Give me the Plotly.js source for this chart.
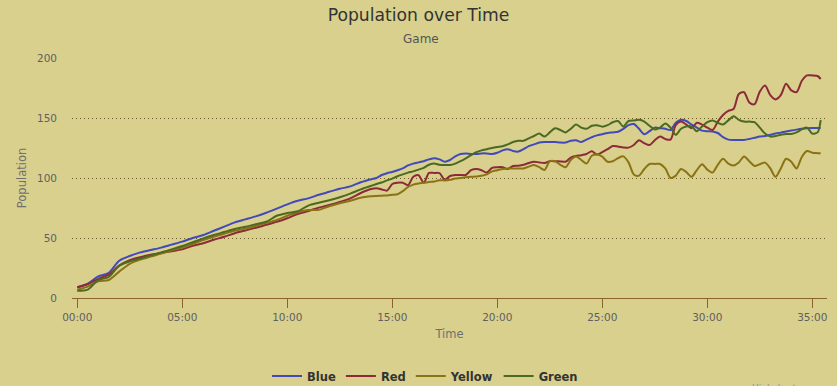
<!DOCTYPE html>
<html>
<head>
<meta charset="utf-8">
<script src="https://cdn.plot.ly/plotly-3.0.1.min.js"></script>
<style>
  html, body { margin: 0; padding: 0; background: #d8d08c; }
  #chart { width: 837px; height: 386px; }
</style>
</head>
<body>
<div id="chart"></div>
<script>
// Time in minutes
const time = [0,0.5,1,1.5,2,2.5,3,3.5,4,4.5,5,5.5,6,6.5,7,7.5,8,8.5,9,9.5,10,10.5,11,11.5,12,12.5,13,13.5,14,
  14.25,14.5,14.75,15, 15.25,15.5,15.75,16, 16.25,16.5,16.75,17, 17.25,17.5,17.75,18,
  18.25,18.5,18.75,19, 19.25,19.5,19.75,20, 20.25,20.5,20.75,21, 21.25,21.5,21.75,22,
  22.25,22.5,22.75,23, 23.25,23.5,23.75,24, 24.25,24.5,24.75,25, 25.25,25.5,25.75,26,
  26.25,26.5,26.75,27, 27.25,27.5,27.75,28, 28.25,28.5,28.75,29, 29.25,29.5,29.75,30,
  30.25,30.5,30.75,31, 31.25,31.5,31.75,32, 32.25,32.5,32.75,33, 33.25,33.5,33.75,34,
  34.25,34.5,34.75,35, 35.25,35.4];

const blue = [9,12,18,21,31,35,38,40,42,44.5,47,50,52.5,56,59.5,63,65.5,68,71,74.5,78,81,83,86,88.5,91,93,96.5,99,
  100,102.5,104,105, 106.5,108,110.5,112, 113,114,115.5,116.5, 115.5,113.6,115,118,
  120,120.5,120,120, 120.5,120.5,120,121, 123,124,122.5,122, 124,126.5,128,129.5,
  130,130,130,129.5, 129.5,131,131.5,130, 132,134,135.5,136.5, 137.5,138,138.5,141,
  144,145,141,136.5, 139,142,141.5,141, 140,146,148.5,147.5, 144.5,142,139.5,139,
  138.8,137.5,134,132, 131.7,131.7,131.7,132.5, 133.5,134.5,135,136, 137,137.8,138.7,139.5,
  140.3,141,141.5,141.7, 141.7,141.7];

const red = [9,11.5,16,19.5,27,31.5,34,36,37.5,39,40.5,43.5,45.6,48.5,51,54,56.3,58.5,61,63.5,66.5,70,72.5,75.3,77.5,80,83,87.5,90.8,
  91.4,90.5,89.5,95, 96,96,94,101, 102.3,96,104.2,104.2, 104,98.5,101.7,102.5,
  102.5,102.5,106.5,107.5, 106.5,104.5,108.5,109, 109,107.5,110,110.3, 111,112.5,113.6,113,
  112.5,114,114,113.8, 113.6,117,118.3,119, 120,122.3,119.5,121.5, 124,126.7,126.2,125.5,
  125.3,127.5,131.5,129, 127.5,131.5,134.5,132.5, 132,144,147,144.5, 141.5,146,144.5,142,
  140,147,152.5,156, 157.5,170,171.5,163, 161.5,172,177,169, 165.5,169,178.5,173,
  171.5,181,185.5,185.5, 185,182.5];

const yellow = [7,9.5,14,15,22,28.5,32,34.5,37,39.8,42,45,48.3,51,53.5,56,57.8,60,62.5,65,68.5,71.5,73.3,73.5,76.5,79,81,83.5,84.7,
  85,85.3,85.5,86, 86.5,89,92.5,94.5, 95.5,96,96.7,97, 98.2,98,98.5,99.5,
  100,100.6,101,101.3, 101.8,103,105.5,106.5, 107.5,108,108,108, 108,109.5,110.8,109,
  106.7,114,114,111, 109,115,118,115, 112,118.5,119.5,117.8, 113.5,114,116.5,118,
  113,103,102,107.5, 111.7,111.7,111.7,108, 100,102,107.5,105, 101,106.5,111.5,107,
  104.5,111,116,112, 110.5,113,118,114, 110,111.5,112.8,108, 101,108,116,113.5,
  108,117.5,122.5,121, 120.7,120.6];

const green = [6,7,15,17.5,27,30.5,33,35.5,38,40.5,43.3,46.5,49.7,52.5,55,57.5,59.3,61.5,63.5,68.5,70.8,72.3,77,79.4,81.5,84,87,90.5,93.5,
  95,96.3,98,99.5, 101.5,103,104.5,105.5, 107,108.5,111,112, 111,110.8,110.8,112,
  114,116.4,119,121.5, 123,124,125,125.8, 126.5,128,130,131, 131,133,135,137,
  134.5,138,141.4,140, 138,141,144.5,142, 141,143.5,144,142.8, 144,146.5,147.5,143,
  147.5,148,148.5,147, 143.5,140.5,142,145.5, 142,136,141,143, 143,139,143,146.5,
  148,146,144.5,148, 151.5,148.5,147,147, 146.5,142,137,134.5, 135,136,136.7,136.7,
  138,140.5,142,137, 138,148.3];

const seriesNames = ['Blue', 'Red', 'Yellow', 'Green'];
const seriesValues = [blue, red, yellow, green];
const seriesColors = ['#4249bb', '#8c2a3a', '#8a7215', '#4a6a22'];

const xTickVals = [0, 5, 10, 15, 20, 25, 30, 35];
const xTickText = xTickVals.map(m => String(m).padStart(2, '0') + ':00');
const yTickVals = [0, 50, 100, 150, 200];

const FONT = 'DejaVu Sans, Verdana, sans-serif';

const traces = seriesNames.map((name, i) => ({
  type: 'scatter',
  mode: 'lines',
  name: name,
  x: time,
  y: seriesValues[i],
  line: { color: seriesColors[i], width: 2, shape: 'spline', smoothing: 0.8 },
  hoverinfo: 'x+y+name'
}));

const axisBrown = '#8a6428';
const W = 837, H = 386;

const layout = {
  width: W,
  height: H,
  margin: { l: 72, r: 10, t: 58, b: 88 },
  paper_bgcolor: '#d8d08c',
  plot_bgcolor: '#d8d08c',
  font: { family: FONT, color: '#606060' },
  title: {
    text: 'Population over Time',
    font: { family: FONT, size: 17.2, color: '#333333' },
    x: 0.5, xref: 'container', xanchor: 'center',
    y: 1 - 15 / H, yref: 'container', yanchor: 'middle'
  },
  xaxis: {
    range: [-0.25, 35.7],
    tickmode: 'array',
    tickvals: xTickVals,
    ticktext: xTickText,
    ticks: 'outside',
    ticklen: 9,
    tickwidth: 1,
    tickcolor: axisBrown,
    showline: true,
    linecolor: axisBrown,
    linewidth: 1,
    showgrid: false,
    zeroline: false,
    tickfont: { family: FONT, size: 10.5, color: '#606060' },
    title: { text: 'Time', font: { family: FONT, size: 11.5, color: '#707070' }, standoff: 8 }
  },
  yaxis: {
    range: [0, 200],
    tickmode: 'array',
    tickvals: yTickVals,
    ticks: '',
    showline: false,
    zeroline: false,
    showgrid: true,
    gridcolor: '#6a5826',
    griddash: '1px,3px',
    gridwidth: 1,
    ticklabelstandoff: 14,
    tickfont: { family: FONT, size: 10.5, color: '#606060' },
    title: { text: 'Population', font: { family: FONT, size: 11.5, color: '#707070' }, standoff: 7 }
  },
  legend: {
    orientation: 'h',
    x: 425 / W, xref: 'container', xanchor: 'center',
    y: 1 - 376 / H, yref: 'container', yanchor: 'middle',
    bgcolor: 'rgba(0,0,0,0)',
    font: { family: FONT, size: 11.5, color: '#333333', weight: 'bold' },
    itemwidth: 30,
    traceorder: 'normal'
  },
  annotations: [
    {
      text: 'Game',
      xref: 'paper', yref: 'paper',
      x: (421 - 72) / 755, y: (298 - 39) / 240,
      xanchor: 'center', yanchor: 'middle',
      showarrow: false,
      font: { family: FONT, size: 12, color: '#555555' }
    },
    {
      text: 'Highcharts.com',
      xref: 'paper', yref: 'paper',
      x: (750 - 72) / 755, y: (298 - 381) / 240,
      xanchor: 'left', yanchor: 'top',
      showarrow: false,
      font: { family: FONT, size: 9, color: '#909090' }
    }
  ],
  showlegend: true
};

Plotly.newPlot('chart', traces, layout, { displayModeBar: false });
</script>
</body>
</html>
